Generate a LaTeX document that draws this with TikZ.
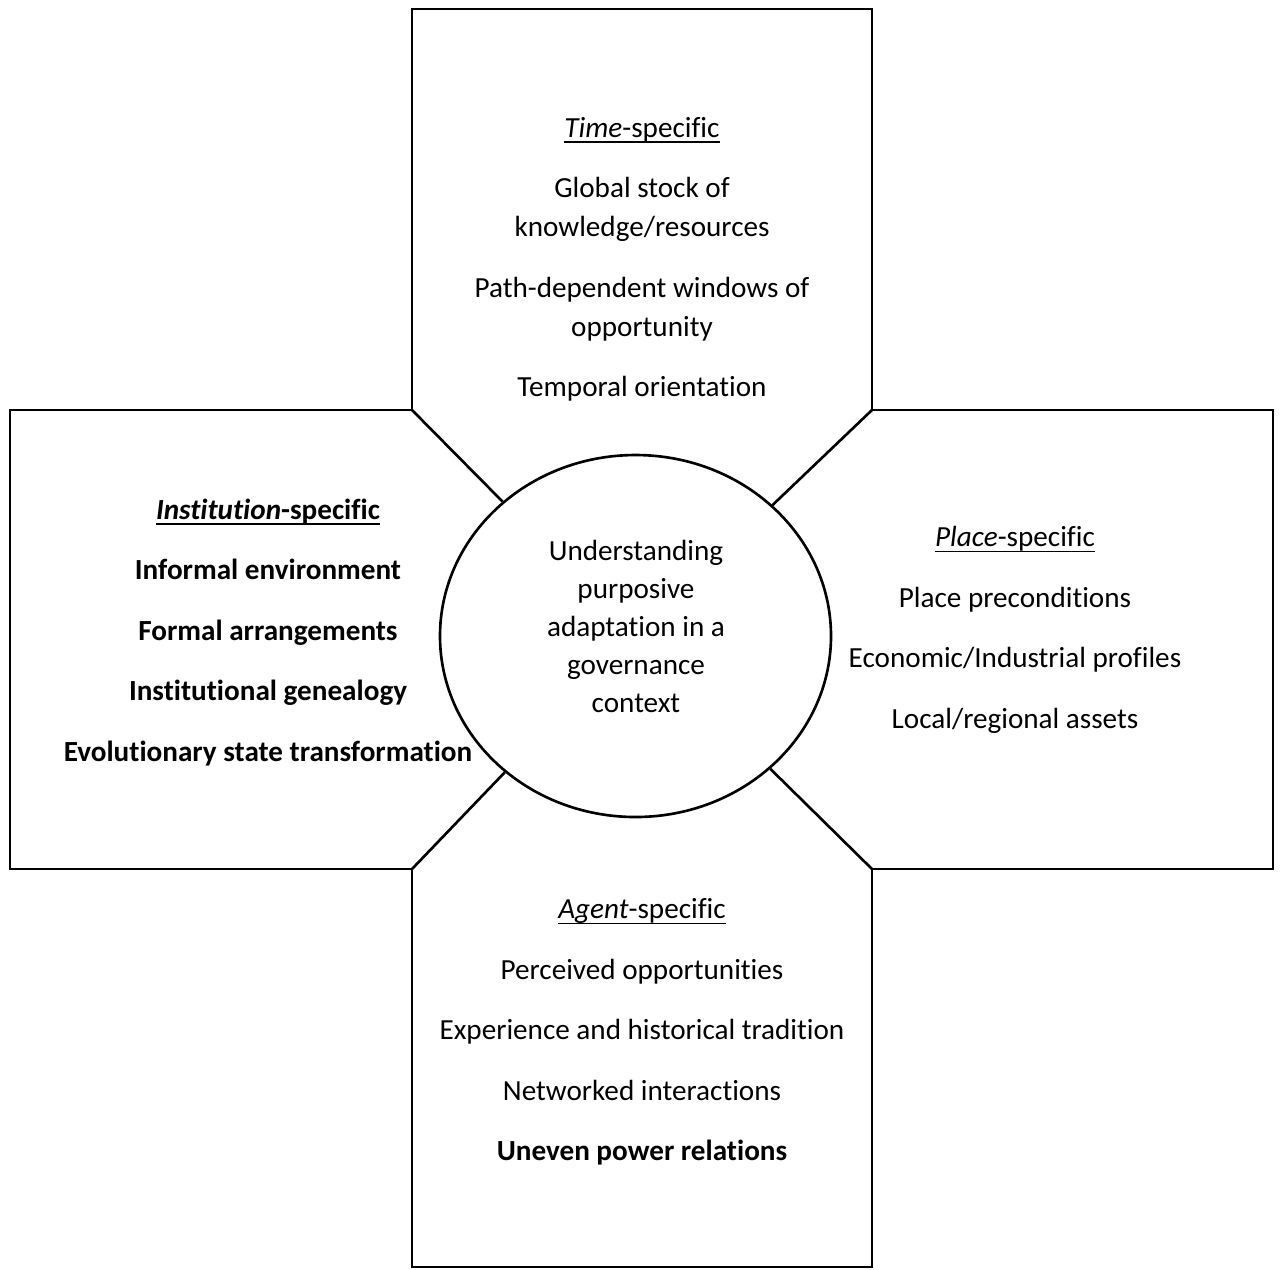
\documentclass[tikz,border=0pt]{standalone}
\usepackage{fontspec}
\setmainfont[Ligatures=NoCommon]{Carlito}
\usetikzlibrary{shapes.geometric}
\newcommand{\specific}[1]{\underline{\smash{\textit{#1}-specific}\vphantom{T}}}

\begin{document}
\begin{tikzpicture}[
  font=\fontsize{8.3}{11.1}\selectfont,
  frame/.style={draw=black,line width=0.75pt,line join=miter},
  core/.style={ellipse,draw=black,line width=0.75pt,fill=white,
    minimum width=39.1mm,minimum height=36.2mm,inner sep=0pt},
  topic/.style={align=center,inner sep=0pt},
  strong/.style={topic,font=\fontsize{8.3}{11.1}\selectfont\bfseries}]
\useasboundingbox (0,0) rectangle (12.85,-12.69);

% inner corners of the four boxes
\coordinate (nw) at (4.12,-4.10);
\coordinate (ne) at (8.72,-4.10);
\coordinate (se) at (8.72,-8.69);
\coordinate (sw) at (4.12,-8.69);

\draw[frame] (nw)--(4.12,-0.09)--(8.72,-0.09)--(ne)--(12.73,-4.10)
  --(12.73,-8.69)--(se)--(8.72,-12.67)--(4.12,-12.67)--(sw)
  --(0.10,-8.69)--(0.10,-4.10)--cycle;

\node[core] (core) at (6.355,-6.36) {};
\node[topic,font=\fontsize{8.3}{10.8}\selectfont] (goal) at (6.36,-6.265)
  {Understanding\\purposive\\adaptation in a\\governance\\context};

\draw[frame] (nw)--(core);
\draw[frame] (ne)--(core);
\draw[frame] (se)--(core);
\draw[frame] (sw)--(core);

\node[topic] (time) at (6.42,-2.60) {\specific{Time}\\[2.15mm]
  Global stock of\\knowledge/resources\\[2.15mm]
  Path-dependent windows of\\opportunity\\[2.15mm]
  Temporal orientation};
\node[strong] (inst) at (2.68,-6.33) {\specific{Institution}\\[2.15mm]
  Informal environment\\[2.15mm]
  Formal arrangements\\[2.15mm]
  Institutional genealogy\\[2.15mm]
  Evolutionary state transformation};
\node[topic] (place) at (10.15,-6.305) {\specific{Place}\\[2.15mm]
  Place preconditions\\[2.15mm]
  Economic/Industrial profiles\\[2.15mm]
  Local/regional assets};
\node[topic] (agent) at (6.42,-10.325) {\specific{Agent}\\[2.15mm]
  Perceived opportunities\\[2.15mm]
  Experience and historical tradition\\[2.15mm]
  Networked interactions\\[2.15mm]
  \textbf{Uneven power relations}};
\end{tikzpicture}
\end{document}
